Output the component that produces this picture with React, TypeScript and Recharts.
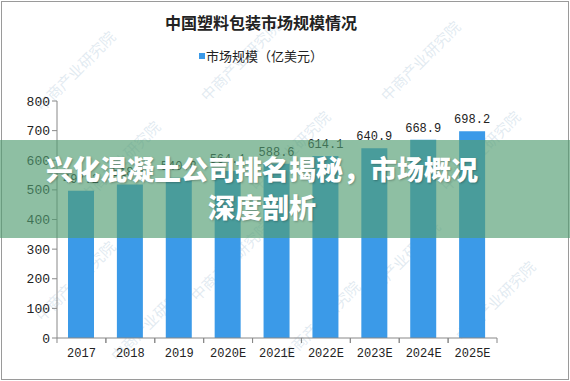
import React from 'react';
import { BarChart, Bar, XAxis, YAxis, LabelList, Legend } from 'recharts';

const years = ['2017', '2018', '2019', '2020E', '2021E', '2022E', '2023E', '2024E', '2025E'];
const marketSize = [497.2, 518.5, 540.8, 564.1, 588.6, 614.1, 640.9, 668.9, 698.2];
const yTicks = [0, 100, 200, 300, 400, 500, 600, 700, 800];
const title = '中国塑料包装市场规模情况';
const seriesName = '市场规模（亿美元）';
const bannerLine1 = '兴化混凝土公司排名揭秘，市场概况';
const bannerLine2 = '深度剖析';

const data = years.map((y, i) => ({ year: y, value: marketSize[i] }));

const HALF_BAND = 24.45;

const XTick = (props: any) => {
  const { x, y, payload } = props;
  return (
    <g>
      <line x1={x - HALF_BAND} y1={y - 8} x2={x - HALF_BAND} y2={y - 3} stroke="#888" />
      <line x1={x + HALF_BAND} y1={y - 8} x2={x + HALF_BAND} y2={y - 3} stroke="#888" />
      <text x={x} y={y + 11} textAnchor="middle" fontSize={12} fill="#222" fontFamily="'Liberation Mono', 'DejaVu Sans Mono', monospace">
        {payload.value}
      </text>
    </g>
  );
};

const LegendContent = () => (
  <div style={{ display: 'flex', alignItems: 'center', justifyContent: 'center', fontFamily: "'Noto Sans CJK SC', sans-serif", fontSize: 13, color: '#222' }}>
    <span style={{ display: 'inline-block', width: 6, height: 6, background: '#3b9ae8', marginRight: 1 }} />
    <span>{seriesName}</span>
  </div>
);

const watermarks = [
  [75, 70], [240, 60], [420, 60],
  [120, 160], [290, 150], [480, 150],
  [75, 280], [230, 260], [400, 260],
  [150, 320], [320, 320], [495, 300],
];

export default function App() {
  return (
    <div style={{ position: 'absolute', left: 0, top: 0, width: 570, height: 381, background: '#fff', overflow: 'hidden' }}>
      <div style={{ position: 'absolute', left: 1, top: 1, width: 566, height: 377, border: '1px solid #9a9a9a' }} />
      {watermarks.map(([x, y], i) => (
        <div key={i} style={{ position: 'absolute', left: x - 55, top: y - 10, width: 110, textAlign: 'center', transform: 'rotate(-45deg)', fontFamily: "'Noto Sans CJK SC', sans-serif", fontSize: 15, color: 'rgba(170,195,215,0.35)', whiteSpace: 'nowrap' }}>
          中商产业研究院
        </div>
      ))}
      <div style={{ position: 'absolute', left: 0, top: 0 }}>
        <BarChart width={570} height={381} data={data} margin={{ top: 82, right: 73, bottom: 13, left: 12 }}>
          <text x={261} y={29} textAnchor="middle" fontSize={16} fontWeight="bold" fill="#222" fontFamily="'Noto Sans CJK SC', sans-serif">
            {title}
          </text>
          <Legend verticalAlign="top" content={<LegendContent />} wrapperStyle={{ top: 46, left: 0, width: 522 }} />
          <XAxis dataKey="year" height={30} axisLine={{ stroke: '#888' }} tickLine={false} tick={<XTick />} interval={0} />
          <YAxis domain={[0, 800]} ticks={yTicks} width={45} axisLine={{ stroke: '#888' }} tickLine={{ stroke: '#888' }} tickSize={5}
            tick={{ fontSize: 13, fill: '#222', fontFamily: "'Liberation Mono', 'DejaVu Sans Mono', monospace" }} />
          <Bar dataKey="value" name={seriesName} fill="#3b9ae8" barSize={26} isAnimationActive={false}>
            <LabelList dataKey="value" position="top" offset={8} fontSize={12} fill="#222" fontFamily="'Liberation Mono', 'DejaVu Sans Mono', monospace"
              formatter={(v: any) => Number(v).toFixed(1)} />
          </Bar>
        </BarChart>
      </div>
      <div style={{ position: 'absolute', left: 0, top: 140, width: 570, height: 98, background: 'rgba(82,156,114,0.65)' }} />
      <div style={{ position: 'absolute', left: 0, top: 150, width: 524, textAlign: 'center', color: '#fff', fontFamily: "'Noto Sans CJK SC', sans-serif", fontWeight: 900, fontSize: 27, lineHeight: '38px', textShadow: '1px 1px 2px rgba(0,0,0,0.25)' }}>
        <div>{bannerLine1}</div>
        <div>{bannerLine2}</div>
      </div>
    </div>
  );
}
